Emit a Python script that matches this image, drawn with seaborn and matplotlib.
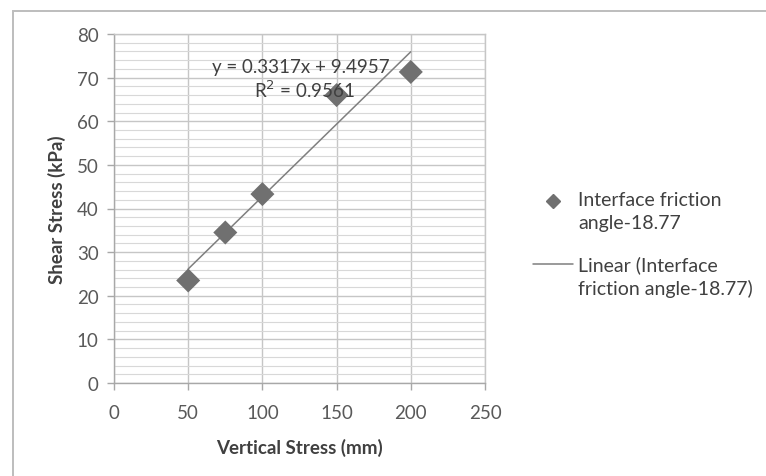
import numpy as np
import pandas as pd
import matplotlib
matplotlib.use("Agg")
import matplotlib.pyplot as plt
from matplotlib.lines import Line2D
from matplotlib.patches import Rectangle
import seaborn as sns

# ---- data ----
vertical_stress = [50, 75, 100, 150, 200]
shear_stress = [23.5, 34.5, 43.3, 66.0, 71.3]
x_ticks = [0, 50, 100, 150, 200, 250]
y_ticks = [0, 10, 20, 30, 40, 50, 60, 70, 80]
eq_text = "y = 0.3317x + 9.4957"
r2_text = "R$^2$ = 0.9561"
series_label = ["Interface friction", "angle-18.77"]
trend_label = ["Linear (Interface", "friction angle-18.77)"]

sns.set_theme(style="white")
plt.rcParams['font.family'] = ['Lato', 'DejaVu Sans']

df = pd.DataFrame({"x": vertical_stress, "y": shear_stress})
slope, intercept = np.polyfit(df["x"], df["y"], 1)
trend = pd.DataFrame({"x": [min(vertical_stress), max(vertical_stress)]})
trend["y"] = slope * trend["x"] + intercept

fig = plt.figure(figsize=(7.66, 4.77), dpi=100)
W, H = 766, 477
ax = fig.add_axes([114 / W, (H - 384) / H, (485 - 114) / W, (384 - 35) / H])

def fx(px):
    return px / W

def fy(py):
    return (H - py) / H

# chart frame
fig.patches.append(Rectangle((13 / W, -0.1), 1.2, (H - 12) / H + 0.1,
                             transform=fig.transFigure, fill=False,
                             edgecolor="#bdbdbd", linewidth=1.4))

FS = 13.5
ax.set_xlim(0, 250)
ax.set_ylim(0, 80)
ax.set_xticks(x_ticks)
ax.set_yticks(y_ticks)
ax.set_yticks(np.arange(0, 81, 2), minor=True)
ax.grid(which="major", color="#c6c6c6", linewidth=1.0)
ax.grid(which="minor", axis="y", color="#d8d8d8", linewidth=0.8)
ax.set_axisbelow(True)
for s in ax.spines.values():
    s.set_color("#c6c6c6")
    s.set_linewidth(1.0)
ax.spines["left"].set_color("#a8a8a8")
ax.spines["bottom"].set_color("#a8a8a8")
ax.tick_params(axis="both", which="major", direction="out", length=5, width=1,
               color="#a8a8a8", labelsize=FS, labelcolor="#595959",
               left=True, bottom=True)
ax.tick_params(axis="y", which="major", pad=6)
ax.tick_params(axis="x", which="major", pad=10)
ax.tick_params(axis="y", which="minor", left=False)

sns.lineplot(data=trend, x="x", y="y", ax=ax, color="#7f7f7f", linewidth=1.1)
sns.scatterplot(data=df, x="x", y="y", ax=ax, marker="D", s=150,
                color="#707070", edgecolor="none", zorder=3)

ax.set_xlabel("Vertical Stress (mm)", fontsize=FS, fontweight="bold",
              color="#404040", labelpad=12)
ax.set_ylabel("Shear Stress (kPa)", fontsize=FS, fontweight="bold",
              color="#404040", labelpad=8)

ax.text(126, 72.6, eq_text, ha="center", va="center", fontsize=FS, color="#404040")
ax.text(128, 67.4, r2_text, ha="center", va="center", fontsize=FS, color="#404040")

# legend (drawn manually to match the layout)
LFS = 14
leg_color = "#404040"
fig.add_artist(Line2D([fx(553)], [fy(202)], marker="D", linestyle="none",
                      color="#707070", markersize=7, transform=fig.transFigure))
fig.text(fx(578), fy(201), series_label[0], fontsize=LFS, color=leg_color, va="center")
fig.text(fx(578), fy(224), series_label[1], fontsize=LFS, color=leg_color, va="center")
fig.add_artist(Line2D([fx(533), fx(573)], [fy(265), fy(265)], color="#7f7f7f",
                      linewidth=1.1, transform=fig.transFigure))
fig.text(fx(578), fy(265), trend_label[0], fontsize=LFS, color=leg_color, va="center")
fig.text(fx(578), fy(289), trend_label[1], fontsize=LFS, color=leg_color, va="center")

fig.savefig("out.png", dpi=100)
